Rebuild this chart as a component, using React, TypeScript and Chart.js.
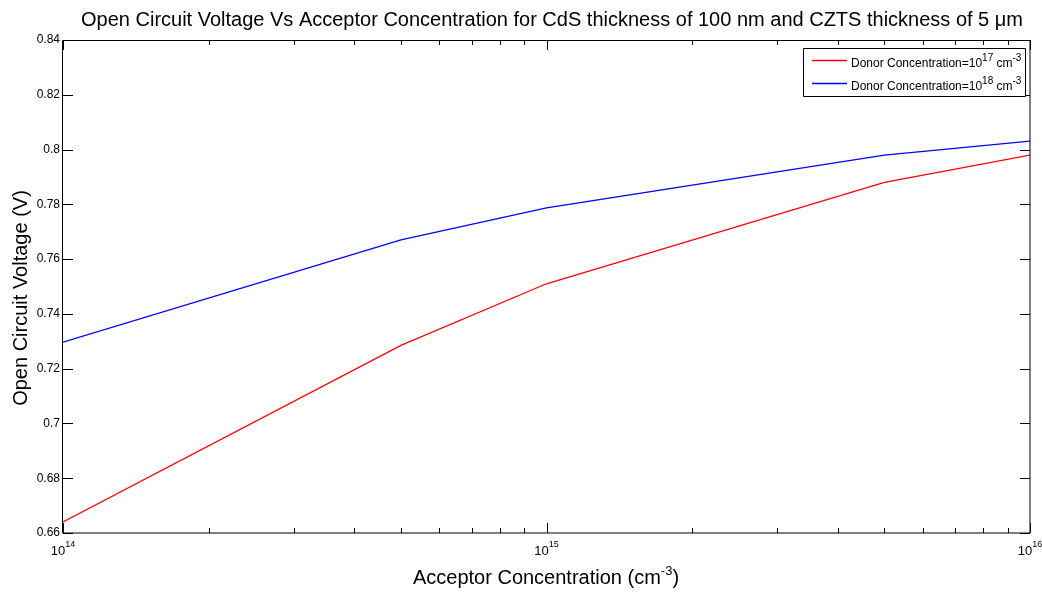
import React, { useEffect, useRef } from "react";
import { Chart, registerables } from "chart.js";

Chart.register(...registerables);

// ---- Data ----
const acceptorConcentration = [1e14, 5e14, 1e15, 5e15, 1e16];
const vocDonor1e17 = [0.664, 0.7285, 0.751, 0.788, 0.798];
const vocDonor1e18 = [0.7297, 0.767, 0.7787, 0.798, 0.8031];

const yTickValues = [0.66, 0.68, 0.7, 0.72, 0.74, 0.76, 0.78, 0.8, 0.82, 0.84];
const xDecadeExponents = [14, 15, 16];
const xMinorMultipliers = [2, 3, 4, 5, 6, 7, 8, 9];

const titleText =
  "Open Circuit Voltage Vs Acceptor Concentration for CdS thickness of 100 nm and CZTS thickness of 5 \u03BCm";
const yAxisTitle = "Open Circuit Voltage (V)";
const xAxisTitleParts = [
  { text: "Acceptor Concentration (cm" },
  { text: "-3", sup: true },
  { text: ")" },
];
const seriesNames = [
  [{ text: "Donor Concentration=10" }, { text: "17", sup: true }, { text: " cm" }, { text: "-3", sup: true }],
  [{ text: "Donor Concentration=10" }, { text: "18", sup: true }, { text: " cm" }, { text: "-3", sup: true }],
];
const seriesColors = ["#FF0000", "#0000FF"];

const FONT = "Arial, 'Liberation Sans', Helvetica, sans-serif";

type Part = { text: string; sup?: boolean };

function richWidth(ctx: CanvasRenderingContext2D, parts: Part[], base: number, sup: number) {
  let w = 0;
  for (const p of parts) {
    ctx.font = `${p.sup ? sup : base}px ${FONT}`;
    w += ctx.measureText(p.text).width;
  }
  return w;
}

function drawRich(
  ctx: CanvasRenderingContext2D,
  parts: Part[],
  x: number,
  baseline: number,
  align: "left" | "center",
  base: number,
  sup: number,
  rise: number
) {
  const w = richWidth(ctx, parts, base, sup);
  let cx = align === "center" ? x - w / 2 : x;
  ctx.textAlign = "left";
  ctx.textBaseline = "alphabetic";
  for (const p of parts) {
    ctx.font = `${p.sup ? sup : base}px ${FONT}`;
    ctx.fillText(p.text, cx, p.sup ? baseline - rise : baseline);
    cx += ctx.measureText(p.text).width;
  }
}

const decorPlugin = {
  id: "matlabDecor",
  afterDraw(chart: any) {
    const ctx: CanvasRenderingContext2D = chart.ctx;
    const { left, right, top, bottom } = chart.chartArea;
    const xs = chart.scales.x;
    const ys = chart.scales.y;
    ctx.save();

    // tick marks (inward)
    ctx.strokeStyle = "#000";
    ctx.lineWidth = 1;
    const majorLen = 10;
    const minorLen = 5;
    ctx.beginPath();
    yTickValues.forEach((v) => {
      const py = Math.round(ys.getPixelForValue(v)) + 0.5;
      ctx.moveTo(left, py);
      ctx.lineTo(left + majorLen, py);
      ctx.moveTo(right, py);
      ctx.lineTo(right - majorLen, py);
    });
    xDecadeExponents.forEach((e, i) => {
      const px = Math.round(xs.getPixelForValue(Math.pow(10, e))) + 0.5;
      ctx.moveTo(px, bottom);
      ctx.lineTo(px, bottom - majorLen);
      ctx.moveTo(px, top);
      ctx.lineTo(px, top + majorLen);
      if (i < xDecadeExponents.length - 1) {
        xMinorMultipliers.forEach((m) => {
          const mx = Math.round(xs.getPixelForValue(m * Math.pow(10, e))) + 0.5;
          ctx.moveTo(mx, bottom);
          ctx.lineTo(mx, bottom - minorLen);
          ctx.moveTo(mx, top);
          ctx.lineTo(mx, top + minorLen);
        });
      }
    });
    ctx.stroke();

    // axes box
    ctx.beginPath();
    ctx.rect(Math.round(left) - 0.5, Math.round(top) + 0.5, Math.round(right - left) + 0.5, Math.round(bottom - top) - 0.5);
    ctx.stroke();

    ctx.fillStyle = "#000";

    // x tick labels 10^n
    xDecadeExponents.forEach((e) => {
      const px = xs.getPixelForValue(Math.pow(10, e));
      drawRich(ctx, [{ text: "10" }, { text: String(e), sup: true }], px, 555, "center", 13, 9, 8);
    });

    // x axis title
    drawRich(ctx, xAxisTitleParts, 546, 584, "center", 20, 13, 9);

    // y axis title
    ctx.save();
    ctx.translate(27, 298);
    ctx.rotate(-Math.PI / 2);
    ctx.font = `20px ${FONT}`;
    ctx.textAlign = "center";
    ctx.textBaseline = "alphabetic";
    ctx.fillText(yAxisTitle, 0, 0);
    ctx.restore();

    // title
    ctx.font = `20px ${FONT}`;
    ctx.textAlign = "center";
    ctx.textBaseline = "alphabetic";
    ctx.fillText(titleText, 552, 26);

    // legend
    const lx = 803;
    const ly = 48;
    const lw = 222;
    const lh = 48;
    ctx.fillStyle = "#fff";
    ctx.fillRect(lx, ly, lw, lh);
    ctx.strokeStyle = "#000";
    ctx.lineWidth = 1;
    ctx.beginPath();
    ctx.rect(lx + 0.5, ly + 0.5, lw, lh);
    ctx.stroke();
    const rows = [60, 83];
    seriesNames.forEach((parts, i) => {
      ctx.strokeStyle = seriesColors[i];
      ctx.lineWidth = 1.3;
      ctx.beginPath();
      ctx.moveTo(812, rows[i] + 0.5);
      ctx.lineTo(847, rows[i] + 0.5);
      ctx.stroke();
      ctx.fillStyle = "#000";
      drawRich(ctx, parts as Part[], 851, rows[i] + 7, "left", 12, 10, 6);
    });

    ctx.restore();
  },
};

export default function App() {
  const canvasRef = useRef<HTMLCanvasElement | null>(null);

  useEffect(() => {
    if (!canvasRef.current) return;
    const chart = new Chart(canvasRef.current, {
      type: "line",
      data: {
        datasets: [
          {
            label: "Donor 1e17",
            data: acceptorConcentration.map((x, i) => ({ x, y: vocDonor1e17[i] })),
            borderColor: seriesColors[0],
            borderWidth: 1.3,
            pointRadius: 0,
            tension: 0,
            fill: false,
          },
          {
            label: "Donor 1e18",
            data: acceptorConcentration.map((x, i) => ({ x, y: vocDonor1e18[i] })),
            borderColor: seriesColors[1],
            borderWidth: 1.3,
            pointRadius: 0,
            tension: 0,
            fill: false,
          },
        ],
      },
      options: {
        animation: false,
        responsive: false,
        devicePixelRatio: 1,
        layout: { padding: { top: 40, right: 12, left: 0, bottom: 0 } },
        plugins: {
          legend: { display: false },
          title: { display: false },
          tooltip: { enabled: false },
        },
        scales: {
          x: {
            type: "logarithmic",
            min: 1e14,
            max: 1e16,
            ticks: { display: false },
            grid: { display: false, drawTicks: false },
            border: { display: false },
            afterFit: (s: any) => {
              s.height = 60;
            },
          },
          y: {
            type: "linear",
            min: 0.66,
            max: 0.84,
            afterBuildTicks: (s: any) => {
              s.ticks = yTickValues.map((v) => ({ value: v }));
            },
            ticks: {
              padding: 3,
              color: "#000",
              font: { size: 12, family: FONT },
              callback: (v: any) => String(Number(Number(v).toFixed(2))),
            },
            grid: { display: false, drawTicks: false },
            border: { display: false },
            afterFit: (s: any) => {
              s.width = 63;
            },
          },
        },
      },
      plugins: [decorPlugin],
    });
    return () => chart.destroy();
  }, []);

  return (
    <div style={{ position: "fixed", left: 0, top: 0, width: 1042, height: 593, background: "#fff" }}>
      <canvas ref={canvasRef} width={1042} height={593} style={{ display: "block" }} />
    </div>
  );
}
